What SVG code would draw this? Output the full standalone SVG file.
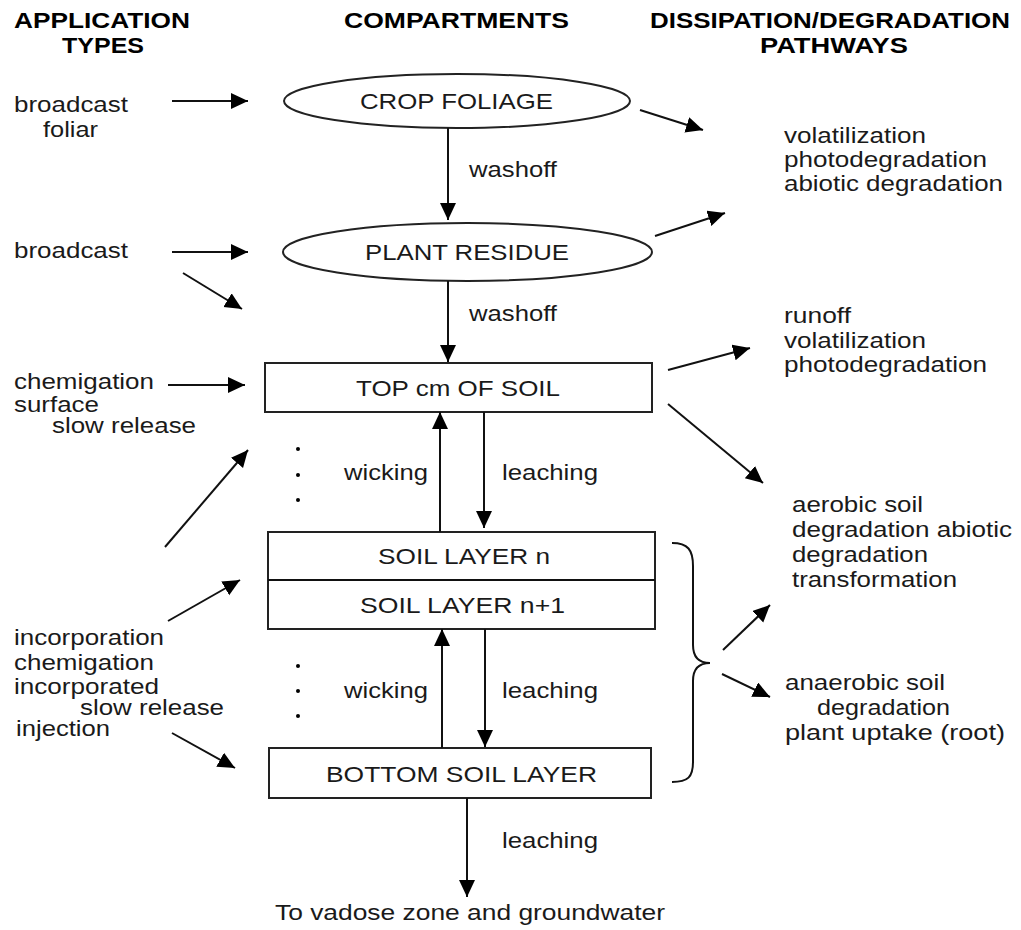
<svg xmlns="http://www.w3.org/2000/svg" width="1021" height="930" viewBox="0 0 1021 930">
<style>
text{font-family:"Liberation Sans",Arial,sans-serif;font-size:22px;fill:#1a1a1a}
.h{font-weight:bold;font-size:22px;fill:#000}
.ln{stroke:#111;stroke-width:2;fill:none}
.shape{stroke:#222;stroke-width:2;fill:#fff}
</style>
<defs>
<marker id="ah" markerUnits="userSpaceOnUse" markerWidth="18" markerHeight="18" refX="17" refY="8" orient="auto">
<path d="M0,0 L17,8 L0,16 z" fill="#000"/>
</marker>
</defs>
<rect width="1021" height="930" fill="#fff"/>
<g id="headers">
<text class="h" x="14" y="28" textLength="176" lengthAdjust="spacingAndGlyphs">APPLICATION</text>
<text class="h" x="62" y="53" textLength="82" lengthAdjust="spacingAndGlyphs">TYPES</text>
<text class="h" x="344" y="28" textLength="225" lengthAdjust="spacingAndGlyphs">COMPARTMENTS</text>
<text class="h" x="650" y="28" textLength="360" lengthAdjust="spacingAndGlyphs">DISSIPATION/DEGRADATION</text>
<text class="h" x="760" y="53" textLength="148" lengthAdjust="spacingAndGlyphs">PATHWAYS</text>
</g>
<g id="application-types">
<text x="14" y="112" textLength="114" lengthAdjust="spacingAndGlyphs">broadcast</text>
<text x="43" y="137" textLength="55" lengthAdjust="spacingAndGlyphs">foliar</text>
<text x="14" y="258" textLength="114" lengthAdjust="spacingAndGlyphs">broadcast</text>
<text x="14" y="389" textLength="140" lengthAdjust="spacingAndGlyphs">chemigation</text>
<text x="14" y="412" textLength="85" lengthAdjust="spacingAndGlyphs">surface</text>
<text x="52" y="433" textLength="144" lengthAdjust="spacingAndGlyphs">slow release</text>
<text x="14" y="645" textLength="150" lengthAdjust="spacingAndGlyphs">incorporation</text>
<text x="14" y="670" textLength="140" lengthAdjust="spacingAndGlyphs">chemigation</text>
<text x="14" y="694" textLength="145" lengthAdjust="spacingAndGlyphs">incorporated</text>
<text x="80" y="715" textLength="144" lengthAdjust="spacingAndGlyphs">slow release</text>
<text x="16" y="736" textLength="94" lengthAdjust="spacingAndGlyphs">injection</text>
</g>
<g id="crop-foliage">
<ellipse class="shape" cx="457" cy="101" rx="173" ry="27"/>
<text x="360" y="109" textLength="193" lengthAdjust="spacingAndGlyphs">CROP FOLIAGE</text>
</g>
<g id="plant-residue">
<ellipse class="shape" cx="467.5" cy="252" rx="184.5" ry="29"/>
<text x="365" y="260" textLength="204" lengthAdjust="spacingAndGlyphs">PLANT RESIDUE</text>
</g>
<g id="top-soil">
<rect class="shape" x="265" y="363" width="387" height="49"/>
<text x="356" y="396" textLength="204" lengthAdjust="spacingAndGlyphs">TOP cm OF SOIL</text>
</g>
<g id="soil-layers">
<rect class="shape" x="268" y="532" width="387" height="97"/>
<line class="ln" x1="268" y1="580" x2="655" y2="580"/>
<text x="378" y="564" textLength="172" lengthAdjust="spacingAndGlyphs">SOIL LAYER n</text>
<text x="360" y="613" textLength="205" lengthAdjust="spacingAndGlyphs">SOIL LAYER n+1</text>
</g>
<g id="bottom-soil">
<rect class="shape" x="269" y="748" width="382" height="50"/>
<text x="326" y="782" textLength="271" lengthAdjust="spacingAndGlyphs">BOTTOM SOIL LAYER</text>
</g>
<g id="pathways">
<text x="784" y="143" textLength="142" lengthAdjust="spacingAndGlyphs">volatilization</text>
<text x="784" y="167" textLength="203" lengthAdjust="spacingAndGlyphs">photodegradation</text>
<text x="784" y="191" textLength="219" lengthAdjust="spacingAndGlyphs">abiotic degradation</text>
<text x="784" y="323" textLength="67" lengthAdjust="spacingAndGlyphs">runoff</text>
<text x="784" y="348" textLength="142" lengthAdjust="spacingAndGlyphs">volatilization</text>
<text x="784" y="372" textLength="203" lengthAdjust="spacingAndGlyphs">photodegradation</text>
<text x="792" y="512" textLength="131" lengthAdjust="spacingAndGlyphs">aerobic soil</text>
<text x="792" y="537" textLength="220" lengthAdjust="spacingAndGlyphs">degradation abiotic</text>
<text x="792" y="562" textLength="136" lengthAdjust="spacingAndGlyphs">degradation</text>
<text x="792" y="587" textLength="165" lengthAdjust="spacingAndGlyphs">transformation</text>
<text x="785" y="690" textLength="160" lengthAdjust="spacingAndGlyphs">anaerobic soil</text>
<text x="817" y="715" textLength="133" lengthAdjust="spacingAndGlyphs">degradation</text>
<text x="785" y="740" textLength="220" lengthAdjust="spacingAndGlyphs">plant uptake (root)</text>
</g>
<g id="connectors">
<line class="ln" x1="172" y1="101" x2="248" y2="101" marker-end="url(#ah)"/>
<line class="ln" x1="172" y1="252" x2="248" y2="252" marker-end="url(#ah)"/>
<line class="ln" x1="183" y1="273" x2="242" y2="309" marker-end="url(#ah)"/>
<line class="ln" x1="168" y1="385" x2="245" y2="385" marker-end="url(#ah)"/>
<line class="ln" x1="165" y1="547" x2="248" y2="450" marker-end="url(#ah)"/>
<line class="ln" x1="168" y1="621" x2="240" y2="580" marker-end="url(#ah)"/>
<line class="ln" x1="172" y1="733" x2="235" y2="768" marker-end="url(#ah)"/>
<line class="ln" x1="448" y1="128" x2="448" y2="220" marker-end="url(#ah)"/>
<line class="ln" x1="448" y1="281" x2="448" y2="362" marker-end="url(#ah)"/>
<line class="ln" x1="440" y1="532" x2="440" y2="412" marker-end="url(#ah)"/>
<line class="ln" x1="484" y1="412" x2="484" y2="528" marker-end="url(#ah)"/>
<line class="ln" x1="442" y1="748" x2="442" y2="629" marker-end="url(#ah)"/>
<line class="ln" x1="485" y1="629" x2="485" y2="747" marker-end="url(#ah)"/>
<line class="ln" x1="467" y1="798" x2="467" y2="897" marker-end="url(#ah)"/>
<line class="ln" x1="640" y1="110" x2="703" y2="130" marker-end="url(#ah)"/>
<line class="ln" x1="655" y1="236" x2="725" y2="213" marker-end="url(#ah)"/>
<line class="ln" x1="668" y1="370" x2="750" y2="348" marker-end="url(#ah)"/>
<line class="ln" x1="668" y1="404" x2="763" y2="483" marker-end="url(#ah)"/>
<line class="ln" x1="723" y1="650" x2="770" y2="605" marker-end="url(#ah)"/>
<line class="ln" x1="722" y1="674" x2="770" y2="697" marker-end="url(#ah)"/>
<text x="469" y="177" textLength="88" lengthAdjust="spacingAndGlyphs">washoff</text>
<text x="469" y="321" textLength="88" lengthAdjust="spacingAndGlyphs">washoff</text>
<text x="344" y="480" textLength="84" lengthAdjust="spacingAndGlyphs">wicking</text>
<text x="502" y="480" textLength="96" lengthAdjust="spacingAndGlyphs">leaching</text>
<text x="344" y="698" textLength="84" lengthAdjust="spacingAndGlyphs">wicking</text>
<text x="502" y="698" textLength="96" lengthAdjust="spacingAndGlyphs">leaching</text>
<text x="502" y="848" textLength="96" lengthAdjust="spacingAndGlyphs">leaching</text>
<text x="275" y="920" textLength="390" lengthAdjust="spacingAndGlyphs">To vadose zone and groundwater</text>
</g>
<g id="dots" fill="#000">
<circle cx="298" cy="449" r="2"/>
<circle cx="298" cy="475" r="2"/>
<circle cx="298" cy="500" r="2"/>
<circle cx="298" cy="666" r="2"/>
<circle cx="298" cy="691" r="2"/>
<circle cx="298" cy="716" r="2"/>
</g>
<g id="brace">
<path class="ln" stroke-width="3" d="M672,543 C688,543 693,550 693,566 L693,645 C693,657 699,663 710,663 C699,663 693,669 693,681 L693,762 C693,777 688,782 672,782"/>
</g>
</svg>
